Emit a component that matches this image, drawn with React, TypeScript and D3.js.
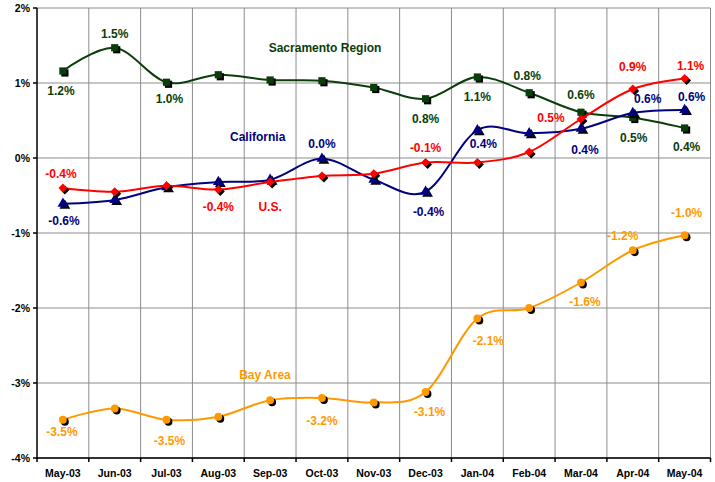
import { useEffect, useRef } from "react";
import * as d3 from "d3";

const months = [
  "May-03", "Jun-03", "Jul-03", "Aug-03", "Sep-03", "Oct-03", "Nov-03",
  "Dec-03", "Jan-04", "Feb-04", "Mar-04", "Apr-04", "May-04",
];
const yTicks = [2, 1, 0, -1, -2, -3, -4];

// monthly job growth, %
const sacramento = [1.16, 1.47, 1.01, 1.11, 1.04, 1.03, 0.94, 0.79, 1.08, 0.87, 0.61, 0.54, 0.4];
const california = [-0.61, -0.56, -0.39, -0.32, -0.29, -0.01, -0.29, -0.45, 0.37, 0.33, 0.39, 0.6, 0.64];
const us = [-0.4, -0.45, -0.37, -0.42, -0.32, -0.24, -0.21, -0.06, -0.06, 0.08, 0.52, 0.92, 1.06];
const bayArea = [-3.49, -3.34, -3.49, -3.45, -3.23, -3.2, -3.26, -3.12, -2.14, -2.0, -1.66, -1.23, -1.03];

const sacramentoLabels = ["1.2%", "1.5%", "1.0%", null, null, null, null, "0.8%", "1.1%", "0.8%", "0.6%", "0.5%", "0.4%"];
const californiaLabels = ["-0.6%", null, null, null, null, "0.0%", null, "-0.4%", "0.4%", null, "0.4%", "0.6%", "0.6%"];
const usLabels = ["-0.4%", null, null, "-0.4%", null, null, null, "-0.1%", null, null, "0.5%", "0.9%", "1.1%"];
const bayAreaLabels = ["-3.5%", null, "-3.5%", null, null, "-3.2%", null, "-3.1%", "-2.1%", null, "-1.6%", "-1.2%", "-1.0%"];

const W = 715;
const H = 482;
const FONT = "'Liberation Sans', Arial, sans-serif";

type Off = [number, number] | null;

const series = [
  {
    name: "Sacramento Region", values: sacramento, labels: sacramentoLabels,
    color: "#0a3d0a", marker: d3.symbolSquare, size: 52, rotate: 0,
    nameAt: [5.06, 1.47],
    offs: [[-2, 20], [0, -14], [3, 17], null, null, null, null, [0, 20], [0, 20], [-2, -17], [0, -17], [1, 20], [2, 19]] as Off[],
  },
  {
    name: "California", values: california, labels: californiaLabels,
    color: "#000080", marker: d3.symbolTriangle, size: 50, rotate: 0,
    nameAt: [3.76, 0.284],
    offs: [[1, 17], null, null, null, null, [0, -15], null, [3, 20], [6, 14], null, [4, 21], [15, -14], [7, -13]] as Off[],
  },
  {
    name: "U.S.", values: us, labels: usLabels,
    color: "#ff0000", marker: d3.symbolSquare, size: 40, rotate: 45,
    nameAt: [4.0, -0.657],
    offs: [[-2, -14], null, null, [0, 17], null, null, null, [0, -15], null, null, [-30, -1], [0, -22], [6, -13]] as Off[],
  },
  {
    name: "Bay Area", values: bayArea, labels: bayAreaLabels,
    color: "#ff9900", marker: d3.symbolCircle, size: 48, rotate: 0,
    nameAt: [3.9, -2.893],
    offs: [[-1, 12], null, [3, 21], null, null, [0, 23], null, [4, 20], [11, 22], null, [4, 19], [-10, -14], [2, -22]] as Off[],
  },
];

export default function App() {
  const ref = useRef<SVGSVGElement>(null);

  useEffect(() => {
    if (!ref.current) return;
    const svg = d3.select(ref.current);
    svg.selectAll("*").remove();

    const left = 37, right = 710.5, top = 8, bottom = 458;

    const x = d3.scalePoint<string>().domain(months).range([left, right]).padding(0.5);
    const step = x.step();
    const xi = d3.scaleLinear().domain([0, months.length - 1]).range([x(months[0])!, x(months[months.length - 1])!]);
    const y = d3.scaleLinear().domain([-4, 2]).range([bottom, top]);

    svg.append("rect").attr("width", W).attr("height", H).attr("fill", "#fff");

    // grid
    const grid = svg.append("g").attr("stroke", "#8c8c8c").attr("stroke-width", 1);
    yTicks.forEach((t) => {
      grid.append("line").attr("x1", left).attr("x2", right).attr("y1", y(t)).attr("y2", y(t));
    });
    d3.range(1, months.length + 1).forEach((i) => {
      const gx = left + i * step;
      grid.append("line").attr("x1", gx).attr("x2", gx).attr("y1", top).attr("y2", bottom);
    });

    // axes
    const ax = svg.append("g").attr("stroke", "#000").attr("stroke-width", 1.5);
    ax.append("line").attr("x1", left).attr("x2", left).attr("y1", top).attr("y2", bottom + 0.5);
    ax.append("line").attr("x1", left).attr("x2", right).attr("y1", bottom).attr("y2", bottom);
    yTicks.forEach((t) => {
      ax.append("line").attr("x1", left - 4).attr("x2", left).attr("y1", y(t)).attr("y2", y(t));
    });
    d3.range(0, months.length + 1).forEach((i) => {
      const gx = left + i * step;
      ax.append("line").attr("x1", gx).attr("x2", gx).attr("y1", bottom).attr("y2", bottom + 4);
    });

    svg.append("g").selectAll("text").data(yTicks).join("text")
      .attr("x", 30).attr("y", (d) => y(d)).attr("dy", "0.35em")
      .attr("text-anchor", "end").attr("font-family", FONT).attr("font-weight", "bold")
      .attr("font-size", 10.5).attr("fill", "#000")
      .text((d) => `${d}%`);

    svg.append("g").selectAll("text").data(months).join("text")
      .attr("x", (d) => x(d)!).attr("y", 473).attr("dy", "0.35em")
      .attr("text-anchor", "middle").attr("font-family", FONT).attr("font-weight", "bold")
      .attr("font-size", 10.5).attr("fill", "#000")
      .text((d) => d);

    const line = d3.line<number>()
      .x((_, i) => x(months[i])!)
      .y((d) => y(d))
      .curve(d3.curveCardinal.tension(0));

    series.forEach((s) => {
      const g = svg.append("g");
      g.append("path").datum(s.values).attr("d", line)
        .attr("fill", "none").attr("stroke", s.color).attr("stroke-width", 2);

      const sym = d3.symbol().type(s.marker).size(s.size);
      s.values.forEach((v, i) => {
        const px = x(months[i])!, py = y(v);
        g.append("path").attr("d", sym()!).attr("fill", "#000")
          .attr("transform", `translate(${px + 2},${py + 2}) rotate(${s.rotate})`);
        g.append("path").attr("d", sym()!).attr("fill", s.color)
          .attr("transform", `translate(${px},${py}) rotate(${s.rotate})`);
      });

      s.labels.forEach((lab, i) => {
        const o = s.offs[i];
        if (!lab || !o) return;
        g.append("text")
          .attr("x", x(months[i])! + o[0]).attr("y", y(s.values[i]) + o[1]).attr("dy", "0.35em")
          .attr("text-anchor", "middle").attr("font-family", FONT).attr("font-weight", "bold")
          .attr("font-size", 12).attr("fill", s.color)
          .text(lab);
      });

      g.append("text")
        .attr("x", xi(s.nameAt[0])).attr("y", y(s.nameAt[1])).attr("dy", "0.35em")
        .attr("text-anchor", "middle").attr("font-family", FONT).attr("font-weight", "bold")
        .attr("font-size", 12).attr("fill", s.color)
        .text(s.name);
    });
  }, []);

  return (
    <div style={{ position: "absolute", left: 0, top: 0 }}>
      <svg ref={ref} width={W} height={H} style={{ display: "block" }} />
    </div>
  );
}
